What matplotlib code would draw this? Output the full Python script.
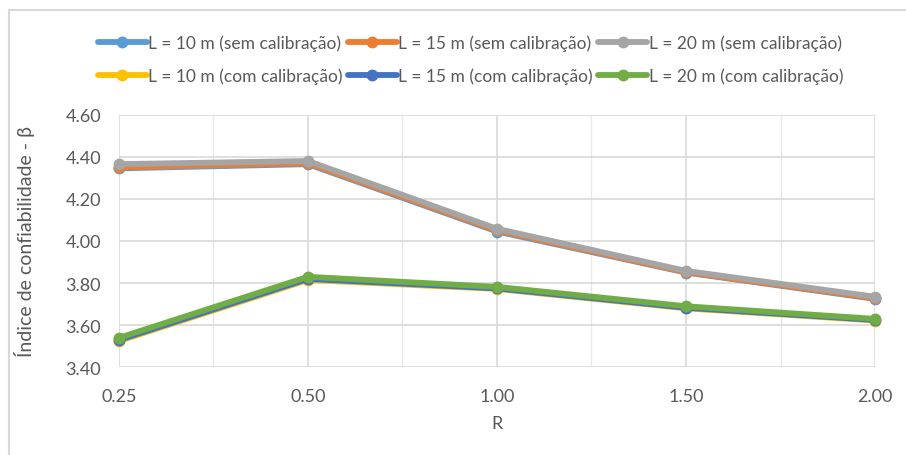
import matplotlib
matplotlib.use("Agg")
import matplotlib.pyplot as plt
from matplotlib.lines import Line2D
from matplotlib.ticker import FixedLocator, FormatStrFormatter

plt.rcParams["font.family"] = ["Lato", "DejaVu Sans"]

# category axis (R)
r_labels = ["0.25", "0.50", "1.00", "1.50", "2.00"]

# reliability index beta
sem_10 = [4.345, 4.365, 4.045, 3.850, 3.725]
sem_15 = [4.350, 4.370, 4.050, 3.852, 3.728]
sem_20 = [4.365, 4.380, 4.058, 3.858, 3.735]
com_10 = [3.525, 3.815, 3.772, 3.680, 3.622]
com_15 = [3.530, 3.820, 3.775, 3.683, 3.625]
com_20 = [3.540, 3.830, 3.782, 3.690, 3.630]

series = [
    ("L = 10 m (sem calibração)", sem_10, "#5B9BD5"),
    ("L = 15 m (sem calibração)", sem_15, "#ED7D31"),
    ("L = 20 m (sem calibração)", sem_20, "#A5A5A5"),
    ("L = 10 m (com calibração)", com_10, "#FFC000"),
    ("L = 15 m (com calibração)", com_15, "#4472C4"),
    ("L = 20 m (com calibração)", com_20, "#70AD47"),
]

TXT = "#595959"
GRID = "#D9D9D9"

fig = plt.figure(figsize=(9.06, 4.56), dpi=100)
ax = fig.add_axes([0.1313, 0.1923, 0.8345, 0.5540])

x = list(range(len(r_labels)))
handles = []
for name, vals, col in series:
    h, = ax.plot(x, vals, color=col, lw=4.2, marker="o", ms=7.5,
                 solid_capstyle="round", label=name, clip_on=False)
    handles.append(h)

ax.set_xlim(0, len(r_labels) - 1)
ax.set_ylim(3.40, 4.60)
ax.set_xticks(x)
ax.set_xticklabels(r_labels)
ax.xaxis.set_minor_locator(FixedLocator([i + 0.5 for i in x[:-1]]))
ax.yaxis.set_major_locator(FixedLocator([3.4 + 0.2 * i for i in range(7)]))
ax.yaxis.set_major_formatter(FormatStrFormatter("%.2f"))
ax.grid(True, which="major", color=GRID, lw=1.2)
ax.grid(True, which="minor", axis="x", color="#E8E8E8", lw=1.0)
ax.set_axisbelow(True)
for s in ax.spines.values():
    s.set_visible(False)
ax.tick_params(axis="both", which="both", length=0, colors=TXT, labelsize=13)
ax.tick_params(axis="x", pad=15)
ax.tick_params(axis="y", pad=13)

ax.set_xlabel("R", color=TXT, fontsize=13, labelpad=8)
ax.set_ylabel("Índice de confiabilidade - β", color=TXT, fontsize=14, labelpad=22)

# legend fills column by column, so reorder to read row by row
order = [0, 3, 1, 4, 2, 5]
leg = ax.legend([handles[i] for i in order], [series[i][0] for i in order],
                loc="lower center", bbox_to_anchor=(0.465, 1.06), ncol=3,
                frameon=False, fontsize=12.5, handlelength=2.8, handletextpad=0.1,
                columnspacing=0.3, labelspacing=0.95)
for t in leg.get_texts():
    t.set_color(TXT)

# chart area border (left and top visible in the crop)
fig.add_artist(Line2D([9 / 906, 9 / 906], [0, 1 - 11 / 456], color=GRID, lw=1.5))
fig.add_artist(Line2D([9 / 906, 1], [1 - 11 / 456, 1 - 11 / 456], color=GRID, lw=1.5))

fig.savefig("out.png", dpi=100)
